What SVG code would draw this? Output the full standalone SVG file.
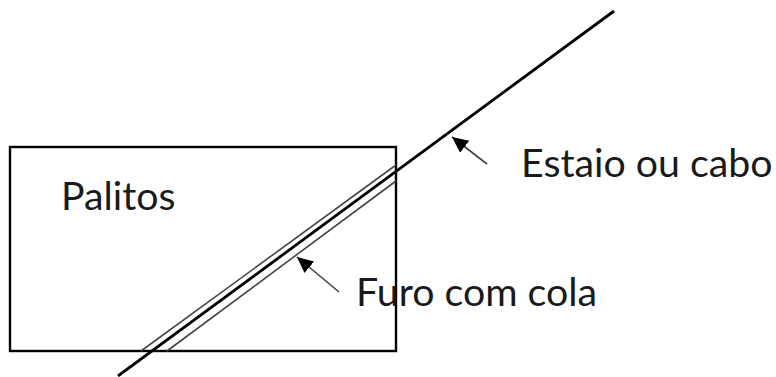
<svg xmlns="http://www.w3.org/2000/svg" width="776" height="377" viewBox="0 0 776 377">
<style>
.t{font-family:"Lato","Open Sans",sans-serif;font-size:39.3px;fill:#1a1a1a}
.l{stroke:#000;fill:none}
.g{stroke:#444;fill:none;stroke-width:1.6}
</style>
<defs><marker id="a" markerUnits="userSpaceOnUse" markerWidth="18" markerHeight="18" refX="16" refY="9" orient="auto"><path d="M0 1.5L16 9L0 16.5Z" fill="#000"/></marker></defs>
<rect width="776" height="377" fill="#fff"/>
<g id="box"><rect class="l" x="10" y="147" width="386" height="204" stroke-width="2.4"/></g>
<g id="connectors">
<path class="l" d="M118 376L614 11" stroke-width="2.8"/>
<path class="g" d="M141 351L396 165"/>
<path class="g" d="M167 351L396 181"/>
<path class="g" d="M487 164L452 137" marker-end="url(#a)"/>
<path class="g" d="M339 292L297 257" marker-end="url(#a)"/>
</g>
<g id="labels">
<text class="t" x="61" y="210">Palitos</text>
<text class="t" x="521" y="177">Estaio ou cabo</text>
<text class="t" x="356" y="306">Furo com cola</text>
</g>
</svg>
